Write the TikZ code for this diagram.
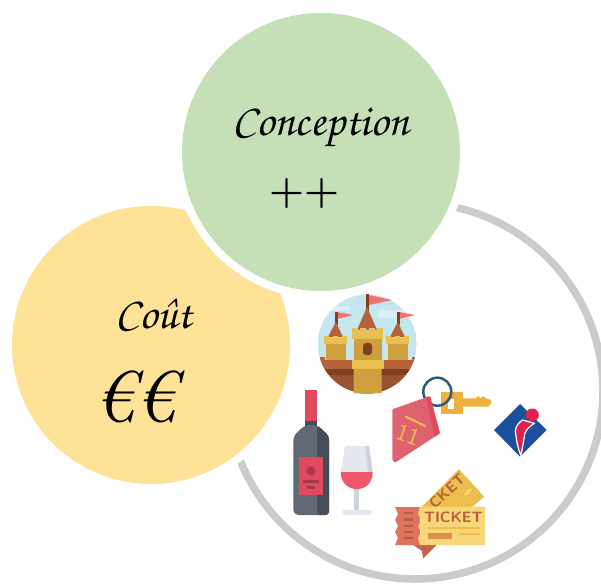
\documentclass[tikz,border=0pt]{standalone}
\usepackage[T1,TU]{fontenc}
\newcommand{\calfont}{\fontencoding{T1}\fontfamily{pzc}\fontseries{m}\fontshape{it}\selectfont}
\definecolor{vert}{HTML}{C5DFB6}
\definecolor{jaune}{HTML}{FDE297}
\definecolor{anneau}{HTML}{CCCBCB}
\definecolor{ciel}{HTML}{C3E6EF}
\definecolor{nuage}{HTML}{D8EEF4}
\definecolor{ocre}{HTML}{CFA13E}
\definecolor{ocreclair}{HTML}{E7C04F}
\definecolor{toit}{HTML}{B5613A}
\definecolor{brique}{HTML}{9A5230}
\definecolor{briquefonce}{HTML}{7E3F22}
\definecolor{drapeau}{HTML}{F0746C}
\definecolor{rouge}{HTML}{DF4A5E}
\definecolor{vin}{HTML}{F0566A}
\definecolor{ardoise}{HTML}{626874}
\definecolor{ardoisefonce}{HTML}{464C58}
\definecolor{verre}{HTML}{E4E7EE}
\definecolor{verrefonce}{HTML}{CDD2DC}
\definecolor{rose}{HTML}{DE6270}
\definecolor{cle}{HTML}{EDB140}
\definecolor{billet}{HTML}{F8D67A}
\definecolor{billetfonce}{HTML}{EBBE4E}
\definecolor{souche}{HTML}{E0735F}
\definecolor{bleu}{HTML}{1B4F9C}
\definecolor{rubis}{HTML}{E0204F}
\definecolor{lien}{HTML}{2D5B7C}
\tikzset{
  titre/.style={inner sep=0pt,text=black,font=\calfont\fontsize{45}{45}\selectfont},
  mention/.style={inner sep=0pt,text=toit,font=\sffamily\bfseries\fontsize{15}{15}\selectfont},
}
\begin{document}
\begin{tikzpicture}[x=1pt,y=-1pt]
  \useasboundingbox (0,0) rectangle (601,583);
  \begin{scope}
    \clip (0,0) rectangle (601,583);
    \draw[anneau,line width=7.5pt] (415,391) circle[radius=188];
  \end{scope}

  \fill[white] (151,345) circle[radius=147];
  \fill[jaune] (151,345) circle[radius=139];
  \fill[white] (321,152) circle[radius=147];
  \fill[vert] (321,152) circle[radius=139];

  \node[titre,anchor=base] (conception) at (321,135) {Conception};
  \node[inner sep=0pt,font=\bfseries\fontsize{40}{40}\selectfont] (plus) at (304,194) {++};
  \node[titre,anchor=base] (cout) at (154,328) {Co\^ut};
  \node[inner sep=0pt,font=\itshape\fontsize{72}{72}\selectfont] (euro) at (135,397) {€€};

  % chateau
  \begin{scope}
    \clip (367.3,344) circle[radius=49.5];
    \fill[ciel] (367.3,344) circle[radius=49.5];
    \fill[nuage] (325,306) rectangle (350,311);
    \fill[nuage] (378,310) rectangle (410,318);
    \fill[toit] (318,360) rectangle (418,369);
    \fill[briquefonce] (318,369) rectangle (418,375);
    \fill[brique] (318,375) rectangle (418,395);
    \foreach \bx in {320,330,340,392,402,412}
      \fill[toit] (\bx,357) rectangle +(5,3);
  \end{scope}
  \foreach \tx in {0,62} {
    \fill[drapeau] (337+\tx,312)--(353+\tx,315)--(337+\tx,319)--cycle;
    \fill[briquefonce] (335+\tx,312) rectangle (337.5+\tx,325);
    \fill[toit] (335.7+\tx,322)--(343+\tx,337)--(328+\tx,337)--cycle;
    \fill[ocre] (326+\tx,343) rectangle (346+\tx,360);
    \fill[ocreclair] (324+\tx,338) rectangle (347+\tx,344);
    \fill[ocreclair] (324+\tx,336) rectangle +(5,3);
    \fill[ocreclair] (333+\tx,336) rectangle +(5,3);
    \fill[ocreclair] (342+\tx,336) rectangle +(5,3);
  }
  \fill[drapeau] (369,295)--(392,300)--(369,305)--cycle;
  \fill[briquefonce] (366,294) rectangle (369,312);
  \fill[toit] (367,307)--(377,330)--(357,330)--cycle;
  \fill[ocre] (353.5,339) rectangle (381.5,360);
  \fill[ocreclair] (351.5,331) rectangle (383,339);
  \foreach \bx in {351.5,360,368.5,377}
    \fill[ocreclair] (\bx,328) rectangle +(6,4);
  \fill[briquefonce,rounded corners=3pt] (363,355)--(363,343)--(372,343)--(372,355)--cycle;
  \fill[ocre] (353.5,369) -- (381.5,369) -- (381.5,393) -- (367,394) -- (353.5,393) -- cycle;
  \fill[ocreclair] (351.5,360) rectangle (384,369);

  % bouteille
  \fill[rouge] (305,390) rectangle (317.3,424);
  \fill[ardoisefonce] (305,421) rectangle (317.3,430);
  \fill[ardoise,rounded corners=5pt] (293.3,515)--(293.3,436)--(305,425)--(317.3,425)--(329,436)--(329,515)--cycle;
  \fill[ardoisefonce,rounded corners=3pt] (317.3,425)--(329,436)--(329,515)--(317.3,515)--cycle;
  \fill[rouge] (299,457) rectangle (323,495);
  \fill[rouge!75!black] (311,471) circle[radius=4.5];
  \fill[rouge!75!black] (303,480) rectangle (319,483);
  \fill[rouge!75!black] (307,485.5) rectangle (315,488.5);

  % verre
  \fill[verre] (345,446)--(369,446)--(372.7,472)--(340.7,472)--cycle;
  \fill[verrefonce] (365,446)--(369,446)--(372.7,472)--(368,472)--cycle;
  \fill[vin] (340.7,472) .. controls (341,484) and (349,489) .. (356.8,489) .. controls (365,489) and (372.5,484) .. (372.7,472) -- cycle;
  \fill[verrefonce] (354.3,489) rectangle (359.3,511);
  \fill[verre,rounded corners=1.5pt] (342.7,510) rectangle (371.7,515);

  % porte-cles
  \fill[cle] (441,391.7) rectangle (463.3,414);
  \fill[white] (448,399) rectangle (454,409);
  \fill[cle] (463,398.3) -- (476,398.3) -- (478,396) -- (481,398.3) -- (483,396) -- (486,398.3) -- (491,400) -- (491,404) -- (488,406.7) -- (463,406.7) -- cycle;
  \draw[lien,line width=2.5pt] (437.3,391.7) circle[radius=14];
  \fill[rose,rounded corners=1pt] (392.3,409.3)--(430,396)--(440,433.3)--(395,462.7)--(392.3,460)--cycle;
  \fill[rouge,rounded corners=1pt] (426,397.4)--(430,396)--(440,433.3)--(434.5,436.9)--cycle;
  \draw[ocreclair,line width=2pt,line cap=round] (405.7,416.7)--(425,426);
  \node[inner sep=0pt,text=ocreclair,rotate=-20,font=\sffamily\fontsize{24}{24}\selectfont] (onze) at (408,435) {11};

  % logo
  \fill[bleu] (520,404)--(546.7,430)--(520,456.7)--(494,430)--cycle;
  \fill[rubis,draw=white,line width=1.2pt] (522.7,420) .. controls (516,424) and (514,430) .. (516,436) .. controls (517,445) and (519,451) .. (520.7,455) .. controls (523,448) and (523.5,440) .. (525,433) .. controls (527,428) and (531,426) .. (534.3,423.3) -- cycle;
  \fill[rubis] (532.3,415) circle[radius=6.5];

  % billets
  \begin{scope}
    \clip (459,469)--(484.3,496.7)--(472.3,507)--(421.7,507)--cycle;
    \fill[billetfonce] (459,469)--(484.3,496.7)--(472.3,507)--(421.7,507)--cycle;
    \fill[billet] (464,494)--(470,488)--(472,490)--(466,496)--cycle;
    \node[mention,rotate=42] (billetdos) at (447,491) {CKET};
  \end{scope}
  \fill[color={rgb,255:red,200;green,96;blue,79}] (413.3,545)--(436.7,545)--(423.3,558.3)--(421.7,550.7)--cycle;
  \fill[souche] (395,507)--(420,507)--(420,545)--(395,545)--(398,538)--(395,532)--(398,526)--(395,520)--(398,514)--cycle;
  \foreach \ly in {512.7,519,525.5,531.7,537.7}
    \fill[toit] (404,\ly-1) rectangle +(9,2.5);
  \fill[billet] (420,506.5)--(485,506.5)--(485,545)--(420,545)--(418,538)--(421,532)--(418,526)--(421,520)--(418,514)--cycle;
  \node[mention] (billetface) at (453.3,517.5) {TICKET};
  \fill[billetfonce] (426.7,526.5) rectangle (480,528.5);
  \fill[billetfonce] (459,532.7) rectangle (480,534.7);
  \fill[color={rgb,255:red,217;green,143;blue,78}] (427.7,533.3) rectangle (451.7,539.3);
\end{tikzpicture}
\end{document}
